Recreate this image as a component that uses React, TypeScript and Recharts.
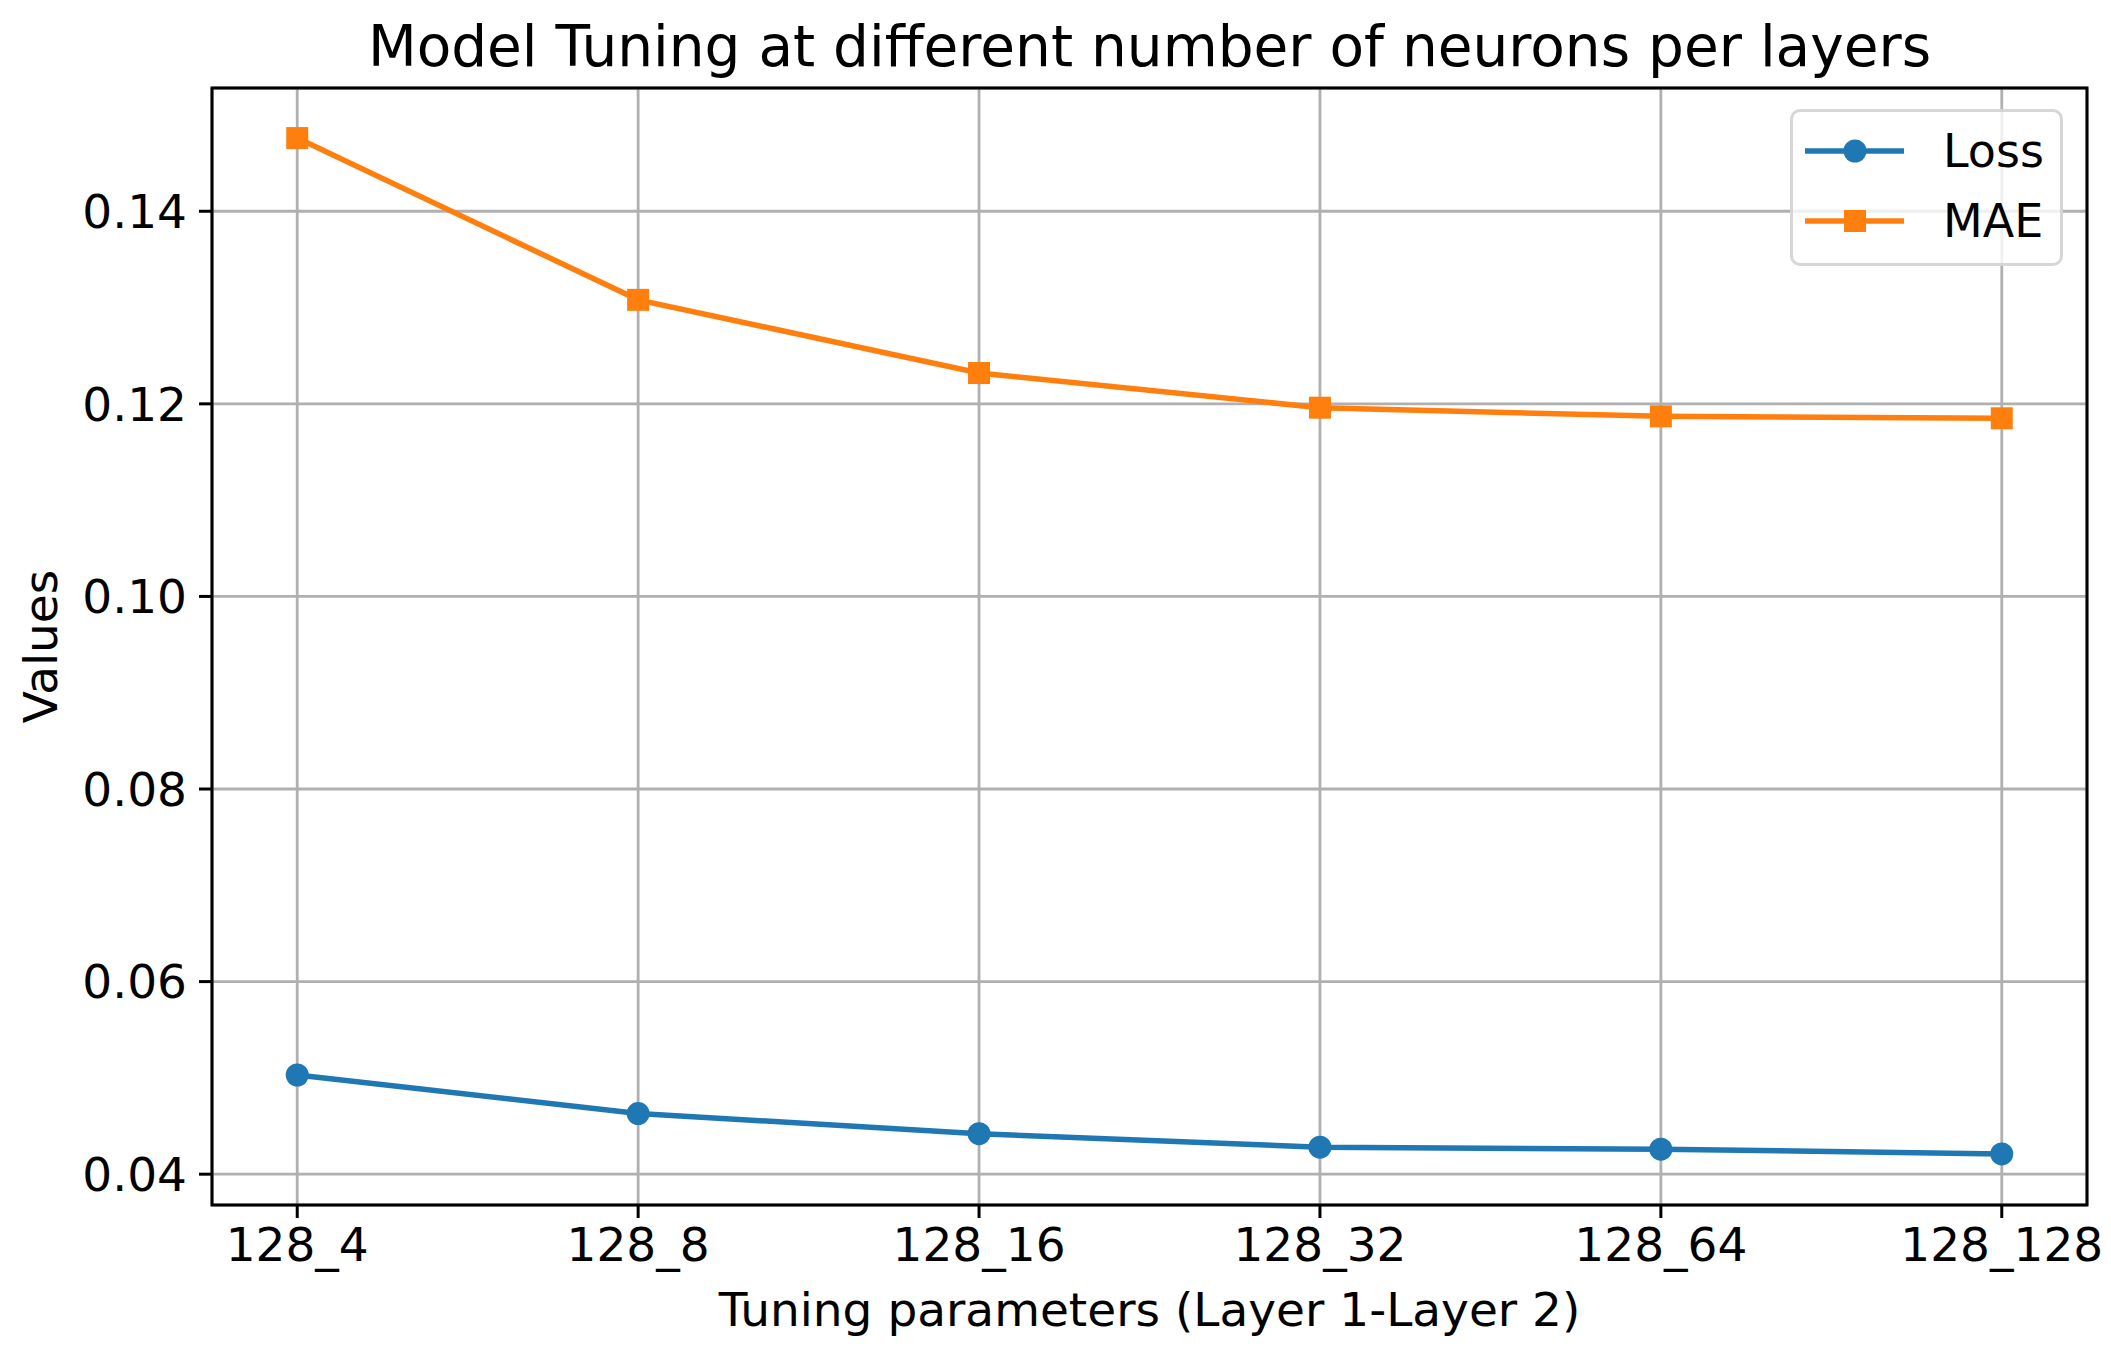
import { CartesianGrid, Label, Line, LineChart, ReferenceArea, XAxis, YAxis } from "recharts";

const categories = ["128_4", "128_8", "128_16", "128_32", "128_64", "128_128"];
const lossValues = [0.0503, 0.0463, 0.0442, 0.0428, 0.0426, 0.0421];
const maeValues = [0.1476, 0.1308, 0.1232, 0.1196, 0.1187, 0.1185];
const yTicks = [0.04, 0.06, 0.08, 0.1, 0.12, 0.14];

const series = [
  { key: "loss", name: "Loss", color: "#1f77b4", shape: "circle" },
  { key: "mae", name: "MAE", color: "#ff7f0e", shape: "square" },
];

const FONT = "'DejaVu Sans', sans-serif";
const X_DOMAIN: [number, number] = [-0.25, 5.25];
const Y_DOMAIN: [number, number] = [0.0368, 0.1528];

document.body.style.margin = "0";

const data = categories.map((name, idx) => ({
  idx,
  name,
  loss: lossValues[idx],
  mae: maeValues[idx],
}));

function Marker({ cx, cy, color, shape }: any) {
  if (cx == null || cy == null) return null;
  if (shape === "square") {
    return <rect x={cx - 11} y={cy - 11} width={22} height={22} fill={color} />;
  }
  return <circle cx={cx} cy={cy} r={11.5} fill={color} />;
}

function LegendBox() {
  return (
    <div
      style={{
        position: "absolute",
        left: 1790,
        top: 109,
        width: 273,
        height: 157,
        boxSizing: "border-box",
        border: "3px solid rgba(204,204,204,0.8)",
        borderRadius: 10,
        background: "rgba(255,255,255,0.8)",
        fontFamily: FONT,
        fontSize: 46,
      }}
    >
      {series.map((s, i) => (
        <div
          key={s.key}
          style={{ position: "absolute", left: 0, top: 39 + i * 70 - 25, height: 50, width: "100%" }}
        >
          <svg width={120} height={50} style={{ position: "absolute", left: 12, top: 0 }}>
            <line x1={0} y1={25} x2={99} y2={25} stroke={s.color} strokeWidth={5.5} />
            <Marker cx={50} cy={25} color={s.color} shape={s.shape} />
          </svg>
          <span style={{ position: "absolute", left: 150, top: 0, lineHeight: "50px" }}>{s.name}</span>
        </div>
      ))}
    </div>
  );
}

export default function App() {
  return (
    <div style={{ position: "relative", width: 2111, height: 1350, background: "#fff" }}>
      <div
        style={{
          position: "absolute",
          left: 212,
          width: 1875,
          top: 19,
          textAlign: "center",
          fontFamily: FONT,
          fontSize: 56.5,
          lineHeight: "56px",
          color: "#000",
        }}
      >
        Model Tuning at different number of neurons per layers
      </div>
      <LineChart
        width={2111}
        height={1350}
        data={data}
        margin={{ top: 88, right: 24, bottom: 0, left: 62 }}
      >
        <CartesianGrid stroke="#b0b0b0" strokeWidth={2.8} />
        <XAxis
          type="number"
          dataKey="idx"
          domain={X_DOMAIN}
          allowDataOverflow
          ticks={[0, 1, 2, 3, 4, 5]}
          interval={0}
          tickFormatter={(i: number) => categories[i]}
          height={145}
          tickSize={13}
          tickMargin={10}
          axisLine={false}
          tickLine={{ stroke: "#000", strokeWidth: 3 }}
          tick={{ fontSize: 47, fill: "#000", fontFamily: FONT }}
        >
          <Label
            value="Tuning parameters (Layer 1-Layer 2)"
            position="insideBottom"
            offset={24}
            style={{ fontSize: 47, fill: "#000", fontFamily: FONT }}
          />
        </XAxis>
        <YAxis
          type="number"
          domain={Y_DOMAIN}
          allowDataOverflow
          ticks={yTicks}
          interval={0}
          tickFormatter={(v: number) => v.toFixed(2)}
          width={150}
          tickSize={13}
          tickMargin={12}
          axisLine={false}
          tickLine={{ stroke: "#000", strokeWidth: 3 }}
          tick={{ fontSize: 47, fill: "#000", fontFamily: FONT }}
        >
          <Label
            content={({ viewBox }: any) => {
              const cy = viewBox.y + viewBox.height / 2;
              return (
                <text
                  x={40}
                  y={cy}
                  transform={`rotate(-90, 40, ${cy})`}
                  textAnchor="middle"
                  dominantBaseline="central"
                  fontSize={47}
                  fontFamily={FONT}
                  fill="#000"
                >
                  Values
                </text>
              );
            }}
          />
        </YAxis>
        {series.map((s) => (
          <Line
            key={s.key}
            type="linear"
            dataKey={s.key}
            name={s.name}
            stroke={s.color}
            strokeWidth={5.5}
            dot={(p: any) => <Marker key={`${s.key}-${p.index}`} cx={p.cx} cy={p.cy} color={s.color} shape={s.shape} />}
            activeDot={false}
            isAnimationActive={false}
          />
        ))}
        <ReferenceArea
          x1={X_DOMAIN[0]}
          x2={X_DOMAIN[1]}
          y1={Y_DOMAIN[0]}
          y2={Y_DOMAIN[1]}
          fill="none"
          stroke="#000"
          strokeWidth={3}
          ifOverflow="visible"
        />
      </LineChart>
      <LegendBox />
    </div>
  );
}
